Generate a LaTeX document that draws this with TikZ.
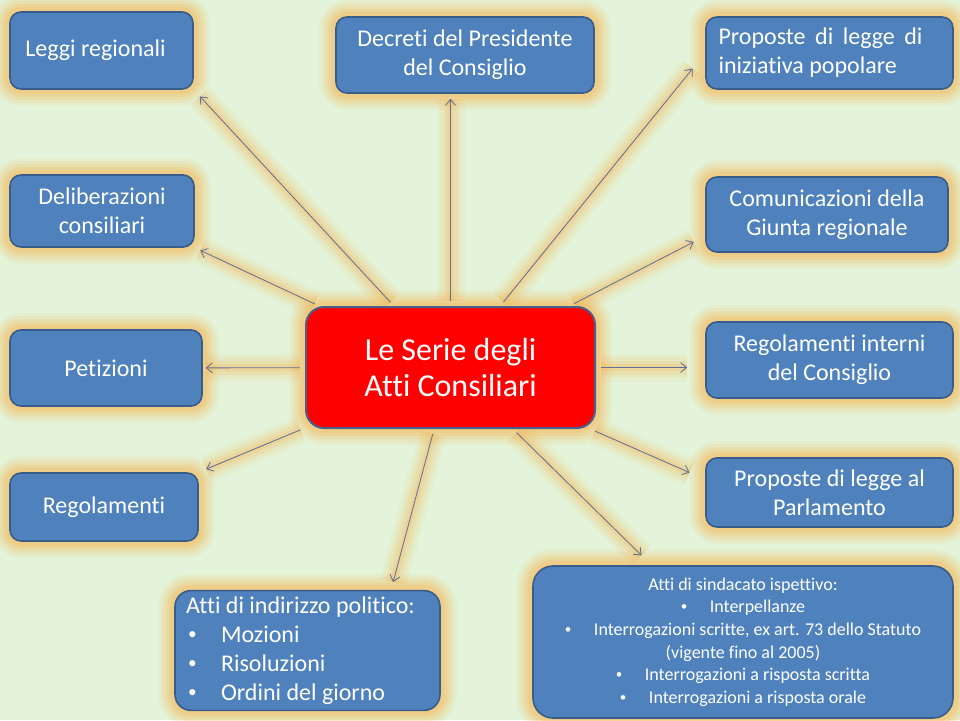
\documentclass[tikz,border=0pt]{standalone}
\usepackage{fontspec}
\setmainfont[Ligatures={NoCommon,NoContextual}]{Carlito}
\usetikzlibrary{arrows.meta,calc}
\pgfdeclarelayer{bg}
\pgfsetlayers{bg,main}
\definecolor{bgc}{RGB}{227,244,218}
\definecolor{boxc}{RGB}{79,129,189}
\definecolor{boxd}{RGB}{56,93,138}
\definecolor{centd}{RGB}{74,96,140}
\definecolor{glowc}{RGB}{246,182,84}
\definecolor{linec}{RGB}{96,112,150}
\newcommand\mybul[2]{\makebox[#1][l]{\hspace*{#2}\raisebox{0.12em}{\scalebox{0.72}{\textbullet}}}}
\begin{document}
\begin{tikzpicture}[x=1pt,y=-1pt,
 glow/.style={preaction={draw=glowc,line width=34pt,draw opacity=0.09},
              preaction={draw=glowc,line width=28pt,draw opacity=0.12},
              preaction={draw=glowc,line width=22pt,draw opacity=0.16},
              preaction={draw=glowc,line width=16pt,draw opacity=0.2},
              preaction={draw=glowc,line width=10pt,draw opacity=0.25}},
 box/.style={glow, draw=boxd, line width=1.6pt, fill=boxc, rounded corners=11pt,
   text=white, inner sep=6pt, align=center, font=\fontsize{24}{29}\selectfont},
 connglow/.style={line cap=round, shorten <=5pt,
   preaction={draw=glowc,line width=28pt,draw opacity=0.08},
   preaction={draw=glowc,line width=21pt,draw opacity=0.12},
   preaction={draw=glowc,line width=14pt,draw opacity=0.16},
   preaction={draw=glowc,line width=7pt,draw opacity=0.22}},
 conn/.style={draw=linec, line width=0.85pt, shorten <=5pt,
   -{Straight Barb[length=6pt,width=10pt]}}
]
\begin{pgfonlayer}{bg}
\fill[bgc] (0,0) rectangle (960,720);
\end{pgfonlayer}
\useasboundingbox (0,0) rectangle (960,720);

\node[box, minimum width=183pt, minimum height=77pt] (leggi) at (101.5,50.5) {\hspace*{-12pt}Leggi regionali};
\node[box, minimum width=258pt, minimum height=76pt] (dec) at (465,55) {Decreti del Presidente\\del Consiglio};
\node[box, minimum width=247pt, minimum height=72pt, align=flush left, text width=222pt] (pop) at (829.5,53)
  {\makebox[204pt][s]{Proposte di legge di}\\iniziativa popolare};
\node[box, minimum width=184pt, minimum height=72pt] (delib) at (102,211) {Deliberazioni\\consiliari};
\node[box, minimum width=242pt, minimum height=75pt] (com) at (827,214.5) {Comunicazioni della\\Giunta regionale};
\node[box, minimum width=192pt, minimum height=76pt] (pet) at (106,368) {Petizioni};
\node[glow, draw=centd, line width=2pt, fill=red, rounded corners=18pt, text=white,
  align=center, font=\fontsize{32}{36}\selectfont,
  minimum width=289pt, minimum height=121pt] (c) at (450.5,367.5) {Le Serie degli\\Atti Consiliari};
\node[box, minimum width=247pt, minimum height=76pt] (ri) at (829.5,360) {Regolamenti interni\\del Consiglio};
\node[box, minimum width=188pt, minimum height=68pt] (reg) at (104,507) {Regolamenti};
\node[box, minimum width=247pt, minimum height=69pt] (parl) at (829.5,492.5) {Proposte di legge al\\Parlamento};
\node[box, minimum width=265pt, minimum height=115pt, align=flush left, text width=251pt, inner xsep=7pt,
  rounded corners=16pt] (ind) at (307.5,650.5)
  {\hspace*{4pt}Atti di indirizzo politico:\\\mybul{39pt}{6pt}Mozioni\\\mybul{39pt}{6pt}Risoluzioni\\\mybul{39pt}{6pt}Ordini del giorno};
\node[box, minimum width=420pt, minimum height=152pt, rounded corners=20pt,
  font=\fontsize{18}{22.6}\selectfont] (sin) at (743,642)
  {Atti di sindacato ispettivo:\\\mybul{29pt}{0pt}Interpellanze\\\mybul{29pt}{0pt}Interrogazioni scritte, ex art. 73 dello Statuto\\(vigente fino al 2005)\\\mybul{29pt}{0pt}Interrogazioni a risposta scritta\\\mybul{29pt}{0pt}Interrogazioni a risposta orale};

\begin{pgfonlayer}{bg}
\foreach \t/\s in {leggi.south east/9, c |- dec.south/5, pop.west/20, delib.south east/6,
  com.190/13, pet/3, c -| ri.west/18, reg.north east/8, parl.174/17, ind.36/8, sin.140/14}
  {\path[connglow, shorten >=\s pt] (c) -- (\t);}
\end{pgfonlayer}
\foreach \t/\s in {leggi.south east/9, c |- dec.south/5, pop.west/20, delib.south east/6,
  com.190/13, pet/3, c -| ri.west/18, reg.north east/8, parl.174/17, ind.36/8, sin.140/14}
  {\draw[conn, shorten >=\s pt] (c) -- (\t);}
\end{tikzpicture}
\end{document}
